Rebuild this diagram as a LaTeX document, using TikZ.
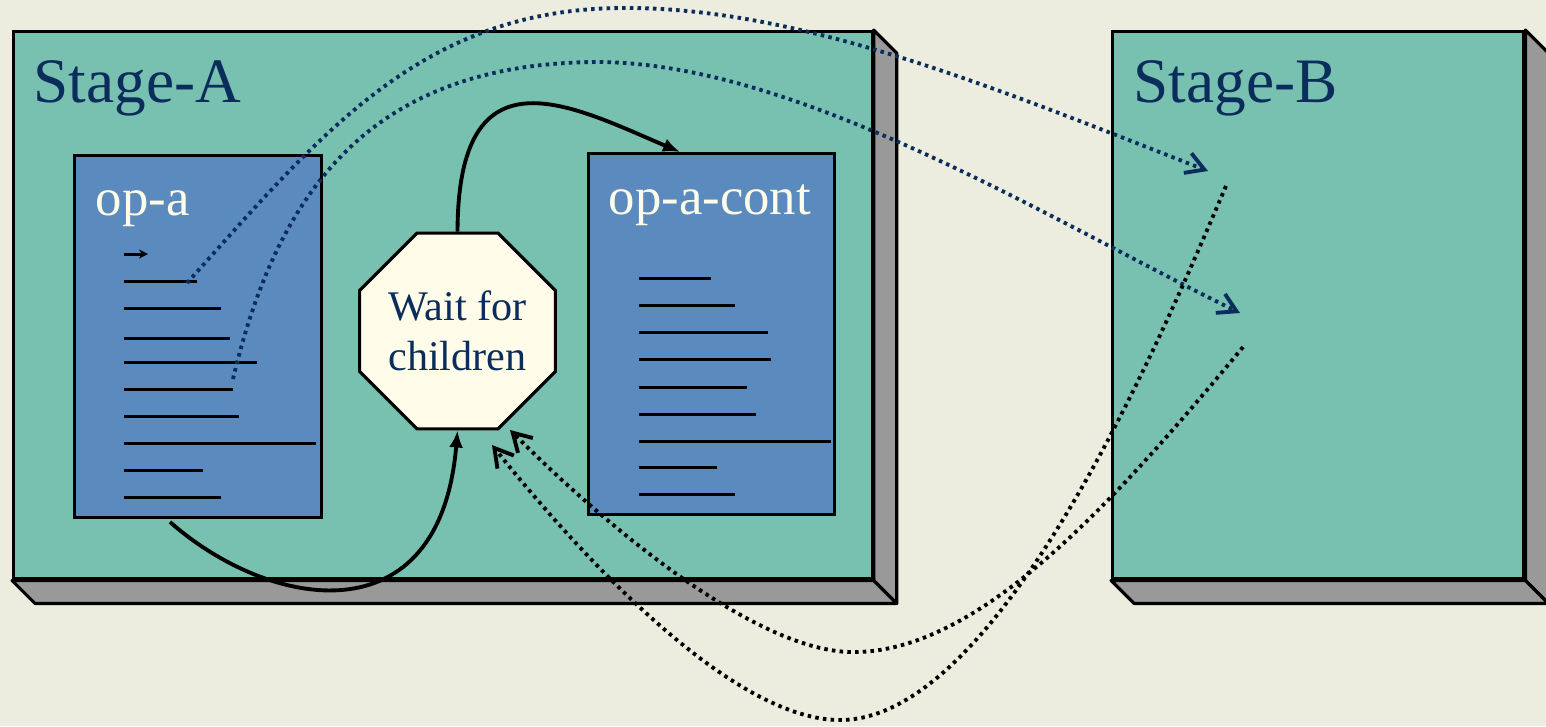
\documentclass[tikz,border=0pt]{standalone}
\usepackage{fontspec}
\setmainfont{Liberation Serif}
\usepackage{tikz}
\usetikzlibrary{shapes, arrows.meta, calc}
\definecolor{paper}{HTML}{ECECDF}
\definecolor{stagegreen}{HTML}{78C0B0}
\definecolor{opblue}{HTML}{5A8ABE}
\definecolor{sidegray}{HTML}{999999}
\definecolor{inkblue}{HTML}{0B2D5B}
\definecolor{cream}{HTML}{FFFDEA}
\tikzstyle{stagebox} = [draw=black, line width=0.9pt, fill=stagegreen, inner sep=0pt, anchor=north west]
\tikzstyle{sideface} = [draw=black, line width=0.9pt, fill=sidegray, line join=round]
\tikzstyle{opbox} = [draw=black, line width=0.9pt, fill=opblue, inner sep=0pt, anchor=north west]
\tikzstyle{stagelabel} = [text=inkblue, font=\fontsize{18}{22}\selectfont, inner sep=0pt, anchor=base west]
\tikzstyle{oplabel} = [text=cream, font=\fontsize{15}{18}\selectfont, inner sep=0pt, anchor=base west]
\tikzstyle{waitnode} = [regular polygon, regular polygon sides=8, minimum size=2.07cm, inner sep=0pt, draw=black, line width=0.9pt, fill=cream, text=inkblue, font=\fontsize{12}{14.2}\selectfont, align=center]
\tikzstyle{textline} = [line width=0.85pt]
\tikzstyle{flow} = [line width=1.1pt, -{Latex[length=1.7mm,width=1.4mm]}]
\tikzstyle{spawn} = [inkblue, line width=1.1pt, dash pattern=on 1pt off 1.2pt, -{Straight Barb[length=1.8mm,width=2.1mm,line width=1.1pt]}]
\tikzstyle{reply} = [black, line width=1.1pt, dash pattern=on 1pt off 1.2pt, -{Straight Barb[length=1.8mm,width=2.1mm,line width=1.1pt]}]

\begin{document}
\begin{tikzpicture}[x=0.01cm, y=-0.01cm]
\fill[paper] (0,0) rectangle (1546,726);
\useasboundingbox (0,0) rectangle (1546,726);
% stages
\node (stageA) [stagebox, minimum width=8.58cm, minimum height=5.47cm] at (12,30) {};
\draw[sideface] (stageA.north east) -- ++(23,23) -- ($(stageA.south east)+(23,23)$) -- (stageA.south east) -- cycle;
\draw[sideface] (stageA.south west) -- ++(23,23) -- ($(stageA.south east)+(23,23)$) -- (stageA.south east) -- cycle;
\node (stageB) [stagebox, minimum width=4.11cm, minimum height=5.47cm] at (1111,30) {};
\draw[sideface] (stageB.north east) -- ++(23,23) -- ($(stageB.south east)+(23,23)$) -- (stageB.south east) -- cycle;
\draw[sideface] (stageB.south west) -- ++(23,23) -- ($(stageB.south east)+(23,23)$) -- (stageB.south east) -- cycle;
\node (labA) [stagelabel] at (33,102) {Stage-A};
\node (labB) [stagelabel] at (1133,102) {Stage-B};
% operations
\node (opa) [opbox, minimum width=2.47cm, minimum height=3.62cm] at (73,154) {};
\node (opacont) [opbox, minimum width=2.46cm, minimum height=3.61cm] at (587,152) {};
\node (opatitle) [oplabel] at (95,215) {op-a};
\node (opaconttitle) [oplabel] at (608,214) {op-a-cont};
\node (wait) [waitnode] at (457.5,331) {Wait for\\children};
% code lines of op-a
\draw[textline, -{Stealth[length=0.9mm,width=0.9mm]}] (124,254) -- (148,254);
\draw[textline] (124,281) -- (197,281);
\draw[textline] (124,308) -- (221,308);
\draw[textline] (124,338) -- (230,338);
\draw[textline] (124,362) -- (257,362);
\draw[textline] (124,389) -- (233,389);
\draw[textline] (124,416) -- (239,416);
\draw[textline] (124,443) -- (316,443);
\draw[textline] (124,470) -- (203,470);
\draw[textline] (124,497) -- (221,497);
% code lines of op-a-cont
\draw[textline] (639,278) -- (711,278);
\draw[textline] (639,305) -- (735,305);
\draw[textline] (639,332) -- (768,332);
\draw[textline] (639,359) -- (771,359);
\draw[textline] (639,387) -- (747,387);
\draw[textline] (639,414) -- (756,414);
\draw[textline] (639,441) -- (831,441);
\draw[textline] (639,467) -- (717,467);
\draw[textline] (639,494) -- (735,494);
% connector ends
\coordinate (callB1) at (187,283);
\coordinate (callB2) at (233,379);
\coordinate (entryB1) at (1208,171);
\coordinate (entryB2) at (1240,313);
\coordinate (exitB1) at (1226,186);
\coordinate (exitB2) at (1243,347);
\coordinate (backA1) at (492,445);
\coordinate (backA2) at (510,430);
\coordinate (endA) at (170,522);
% control flow
\draw[flow] (endA) .. controls (270,610) and (440,640) .. (wait.south);
\draw[flow] (wait.north) .. controls (458,45) and (570,105) .. ($(opacont.north west)+(93,0)$);
% calls to Stage-B
\draw[spawn] (callB1) .. controls (320,135) and (420,10) .. (620,8) .. controls (800,6) and (1000,90) .. (entryB1);
\draw[spawn] (callB2) .. controls (280,180) and (380,62) .. (600,62) .. controls (800,64) and (1050,220) .. (entryB2);
% replies from Stage-B
\draw[reply] (exitB1) .. controls (1160,340) and (1000,720) .. (840,720) .. controls (740,720) and (600,580) .. (backA1);
\draw[reply] (exitB2) .. controls (1120,495) and (980,655) .. (850,652) .. controls (760,650) and (620,540) .. (backA2);
\end{tikzpicture}
\end{document}
